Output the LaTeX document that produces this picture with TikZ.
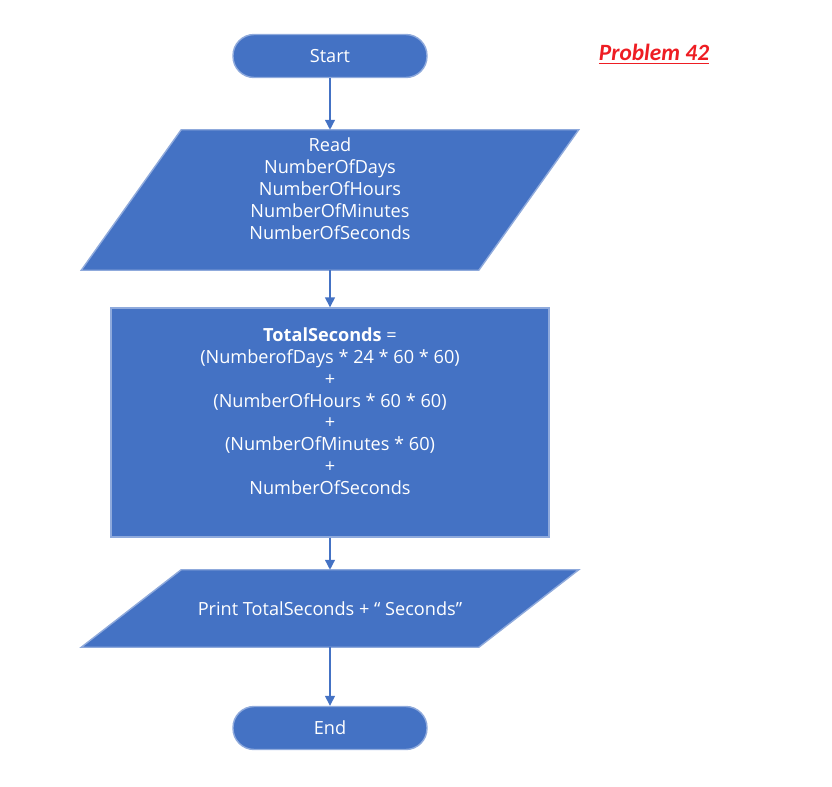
\documentclass[tikz,border=0pt]{standalone}
\usepackage{fontspec}
\setmainfont{Open Sans}
\newfontfamily\titlefont{Carlito}
\usetikzlibrary{arrows.meta,backgrounds}
\definecolor{BoxColor}{HTML}{4472C4}
\definecolor{EdgeColor}{HTML}{8FAADC}
\definecolor{TitleColor}{HTML}{EE1D23}
\newcommand{\flowfont}{\fontsize{12.9}{15.5}\selectfont}
\tikzstyle{terminal_element}=[rectangle,
                             minimum height=1.075cm,
                             minimum width=4.85cm,
                             fill=BoxColor,
                             draw=EdgeColor,
                             line width=1pt,
                             text=white,
                             font=\flowfont,
                             rounded corners=15pt, ]
\tikzstyle{process_element}=[rectangle,
                             minimum height=5.725cm,
                             minimum width=10.95cm,
                             fill=BoxColor,
                             draw=EdgeColor,
                             line width=1pt,
                             text=white,
                             align=center,
                             font=\flowfont, ]
\tikzstyle{io_element}=[rectangle,
                        minimum width=7.425cm,
                        inner sep=0pt,
                        text=white,
                        align=center,
                        font=\flowfont, ]
\tikzstyle{io_shape}=[fill=BoxColor, draw=EdgeColor, line width=1pt]
\tikzstyle{flow_arrow}=[draw=BoxColor, line width=1pt, -{Triangle[length=7pt,width=7pt]}]

\begin{document}
\begin{tikzpicture}
    \useasboundingbox (0cm, 0cm) rectangle (20.8cm, -19.675cm);
    % ---------------------------------------------------------------------------------------------------------
    %  Start en invoer
    \node at (8.25cm, -1.4cm) (start) [terminal_element] {Start};

    \node at (8.25cm, -5.0cm) (read) [io_element, minimum height=3.5cm] {Read\\NumberOfDays\\NumberOfHours\\NumberOfMinutes\\NumberOfSeconds\\[-4pt]\strut};
    \begin{scope}[on background layer]
        \filldraw[io_shape] (read.north west) -- ([xshift=2.5cm]read.north east) -- (read.south east) -- ([xshift=-2.5cm]read.south west) -- cycle;
    \end{scope}

    % ---------------------------------------------------------------------------------------------------------
    %  Berekening
    \node at (8.25cm, -10.5625cm) (calc) [process_element] {\textbf{TotalSeconds} =\\(NumberofDays * 24 * 60 * 60)\\+\\(NumberOfHours * 60 * 60)\\+\\(NumberOfMinutes * 60)\\+\\NumberOfSeconds\\[-4pt]\strut};

    % ---------------------------------------------------------------------------------------------------------
    %  Uitvoer en einde
    \node at (8.25cm, -15.2125cm) (print) [io_element, minimum height=1.925cm] {Print TotalSeconds + “ Seconds”};
    \begin{scope}[on background layer]
        \filldraw[io_shape] (print.north west) -- ([xshift=2.5cm]print.north east) -- (print.south east) -- ([xshift=-2.5cm]print.south west) -- cycle;
    \end{scope}

    \node at (8.25cm, -18.2cm) (stop) [terminal_element] {End};

    \node at (16.35cm, -1.35cm) (title) [text=TitleColor, font=\titlefont\fontsize{16.6}{19}\selectfont\bfseries\itshape] {\underline{Problem 42}};

    \draw[flow_arrow] (start.south) -- (read.north);
    \draw[flow_arrow] (read.south) -- (calc.north);
    \draw[flow_arrow] (calc.south) -- (print.north);
    \draw[flow_arrow] (print.south) -- (stop.north);
\end{tikzpicture}
\end{document}
